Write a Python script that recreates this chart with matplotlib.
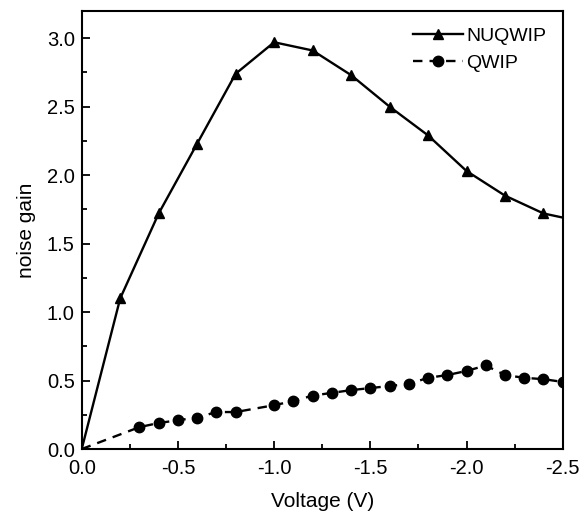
import matplotlib.pyplot as plt
from matplotlib.ticker import MultipleLocator

plt.rcParams['font.family'] = ['Liberation Sans', 'DejaVu Sans']

# NUQWIP (triangles)
v_nuq = [0.0, -0.2, -0.4, -0.6, -0.8, -1.0, -1.2, -1.4, -1.6, -1.8, -2.0, -2.2, -2.4, -2.5]
g_nuq = [0.0, 1.10, 1.72, 2.23, 2.74, 2.97, 2.91, 2.73, 2.50, 2.29, 2.03, 1.85, 1.72, 1.69]

# QWIP (circles)
v_qw = [0.0, -0.3, -0.4, -0.5, -0.6, -0.7, -0.8, -1.0, -1.1, -1.2, -1.3, -1.4, -1.5,
        -1.6, -1.7, -1.8, -1.9, -2.0, -2.1, -2.2, -2.3, -2.4, -2.5]
g_qw = [0.0, 0.16, 0.19, 0.21, 0.23, 0.27, 0.27, 0.32, 0.35, 0.39, 0.41, 0.43, 0.445,
        0.46, 0.475, 0.52, 0.54, 0.57, 0.61, 0.54, 0.52, 0.51, 0.49]

fig = plt.figure(figsize=(5.88, 5.12), dpi=100)
ax = fig.add_axes([0.139, 0.123, 0.818, 0.856])

ax.plot(v_nuq, g_nuq, color='black', lw=1.7, marker='^', ms=7.5,
        markevery=list(range(1, len(v_nuq) - 1)), label='NUQWIP')
ax.plot(v_qw, g_qw, color='black', lw=1.7, ls=(0, (4, 3)), marker='o', ms=7.5,
        markevery=list(range(1, len(v_qw))), label='QWIP')

ax.set_xlim(0, -2.5)
ax.set_ylim(0, 3.2)
ax.xaxis.set_major_locator(MultipleLocator(0.5))
ax.xaxis.set_minor_locator(MultipleLocator(0.25))
ax.yaxis.set_major_locator(MultipleLocator(0.5))
ax.yaxis.set_minor_locator(MultipleLocator(0.25))
ax.set_xticklabels([f'{t:.1f}' for t in ax.get_xticks()])
ax.set_yticklabels([f'{t:.1f}' for t in ax.get_yticks()])
ax.tick_params(which='both', direction='in', labelsize=14.5, width=1.3)
ax.tick_params(which='major', length=6)
ax.tick_params(which='minor', length=3.5)
ax.tick_params(axis='x', pad=7)
ax.tick_params(axis='y', pad=5)

for s in ax.spines.values():
    s.set_linewidth(1.5)

ax.set_xlabel('Voltage (V)', fontsize=15, labelpad=10)
ax.set_ylabel('noise gain', fontsize=15, labelpad=8)

ax.legend(loc='upper right', frameon=False, fontsize=14, handlelength=2.6,
          handletextpad=0.15, borderaxespad=0.55, labelspacing=0.5,
          borderpad=0.3)

fig.savefig('out.png', dpi=100)
